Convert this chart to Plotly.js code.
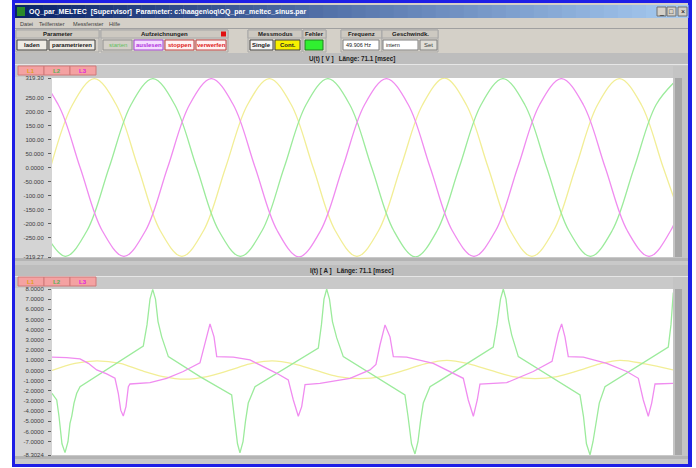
<!DOCTYPE html>
<html><head><meta charset="utf-8">
<script src="https://cdn.plot.ly/plotly-3.0.1.min.js"></script>
<style>html,body{margin:0;padding:0;background:#fff;}#chart{width:696px;height:468px;}</style>
</head><body><div id="chart"></div>
<script>
// ---- Voltage U(t) [V], time in ms ----
const uL1Time = [-0.16,2.345,4.85,7.355,9.86,12.365,14.87,17.375,19.88,22.385,24.89,27.395,29.9,32.405,34.91,37.415,39.92,42.425,44.93,47.435,49.94,52.445,54.95,57.455,59.96,62.465,64.97,67.475,69.98,72.485];
const uL1 = [0,224,317,224,0,-224,-317,-224,0,224,317,224,0,-224,-317,-224,0,224,319,224,0,-224,-317,-224,0,224,317,224,0,-224];
const uL2Time = [-0.975,1.53,4.035,6.54,9.045,11.55,14.055,16.56,19.065,21.57,24.075,26.58,29.085,31.59,34.095,36.6,39.105,41.61,44.115,46.62,49.125,51.63,54.135,56.64,59.145,61.65,64.155,66.66,69.165,71.67];
const uL2 = [-224,-317,-224,0,224,317,224,0,-224,-317,-224,0,224,317,224,0,-224,-319,-224,0,224,317,224,0,-224,-317,-224,0,224,317];
const uL3Time = [-4.295,-1.79,0.715,3.22,5.725,8.23,10.735,13.24,15.745,18.25,20.755,23.26,25.765,28.27,30.775,33.28,35.785,38.29,40.795,43.3,45.805,48.31,50.815,53.32,55.825,58.33,60.835,63.34,65.845,68.35,70.855,73.36];
const uL3 = [224,317,224,0,-224,-317,-224,0,224,317,224,0,-224,-319,-224,0,224,317,224,0,-224,-317,-224,0,224,317,224,0,-224,-317,-224,0];

// ---- Current I(t) [A], time in ms ----
const iL1Time = [0,2.63,5.15,7.79,10.19,12.71,15.23,17.75,20.26,22.67,25.19,27.71,30.23,32.74,35.26,37.78,40.3,42.7,45.22,47.74,50.26,52.78,55.3,57.82,60.34,62.74,65.03,67.89,71.1];
const iL1 = [0,0.7,0.95,0.7,0,-0.6,-0.85,-0.6,0,0.65,0.95,0.65,0,-0.6,-0.8,-0.6,0,0.65,1.0,0.65,0,-0.6,-0.8,-0.6,0,0.65,1.0,0.65,0.05];
const iL2Time = [0,0.54,0.8,1.14,1.49,1.83,2.06,2.26,2.52,2.83,3.21,9.31,10.45,10.88,11.22,11.53,11.85,12.14,12.56,13.32,16.94,20.57,20.89,21.24,21.52,21.87,22.15,22.47,23.24,30.49,30.85,31.14,31.45,31.77,32.11,32.6,33.35,40.41,40.76,41.16,41.56,41.9,42.19,42.51,43.28,44.42,50.52,50.95,51.35,51.67,51.98,52.26,52.63,53.39,60.45,60.85,61.19,61.6,61.94,62.28,62.66,63.31,70.56,70.87,71.13,71.44];
const iL2 = [-2.24,-2.9,-4.5,-7.2,-8.07,-7.0,-5.2,-4.5,-3.2,-2.24,-1.6,1.75,2.4,4.5,7.0,7.97,7.0,4.8,3.3,1.36,-0.6,-2.4,-4.5,-7.2,-8.1,-7.0,-5.0,-3.2,-1.6,2.2,4.5,7.0,8.0,7.0,4.8,3.2,1.36,-2.4,-4.5,-7.2,-8.2,-7.0,-5.0,-3.2,-1.6,-1.0,2.3,4.5,7.0,8.0,7.0,5.0,3.5,1.36,-2.4,-4.5,-7.2,-8.3,-7.0,-5.0,-3.2,-1.6,2.3,4.5,7.6,8.0];
const iL3Time = [0,1.68,3.21,4.16,5.12,6.26,7.21,7.59,7.87,8.16,8.47,8.74,8.93,11.22,13.13,15.03,16.94,17.52,18.09,18.55,18.86,20.76,22.67,24.19,25.73,27.05,27.63,28.2,28.59,28.97,30.68,34.12,36.41,37.09,37.55,38.13,38.7,39.08,40.61,43.65,45.57,47.09,47.66,48.24,48.69,49.0,52.06,55.1,57.25,57.97,58.35,58.73,59.11,60.83,63.51,65.8,67.13,67.7,68.27,68.66,69.04,71.13];
const iL3 = [1.3,1.26,1.13,0.7,0.05,-0.34,-0.77,-2.24,-3.9,-4.47,-3.55,-1.6,-1.33,-1.2,-0.77,-0.1,0.75,2.7,4.57,3.3,1.36,1.3,1.03,0.37,-0.28,-0.93,-2.9,-4.5,-3.55,-1.4,-1.26,-0.77,0.05,0.6,2.5,4.47,3.3,1.36,1.3,0.7,-0.1,-0.77,-2.9,-4.5,-2.9,-1.33,-1.2,-0.1,0.9,3.65,4.57,3.3,1.36,1.3,0.7,-0.1,-0.77,-2.9,-4.5,-3.2,-1.33,-1.26];

// ---- tick labels ----
const uTickVals = [319.30,250,200,150,100,50,0,-50,-100,-150,-200,-250,-319.27];
const uTickText = ['319.30','250.00','200.00','150.00','100.00','50.000','0.0000','-50.000','-100.00','-150.00','-200.00','-250.00','-319.27'];
const iTickVals = [8,7,6,5,4,3,2,1,0,-1,-2,-3,-4,-5,-6,-7,-8.3024];
const iTickText = ['8.0000','7.0000','6.0000','5.0000','4.0000','3.0000','2.0000','1.0000','0.0000','-1.0000','-2.0000','-3.0000','-4.0000','-5.0000','-6.0000','-7.0000','-8.3024'];
const phaseNames = ['L1','L2','L3'];
const recLength = 71.1;

const W = 696, H = 468;
const px = x => x / W, py = y => 1 - y / H;
const FONT = 'Liberation Sans, Arial, sans-serif';
const shapes = [], ann = [];
function rect(x0, y0, x1, y1, fill, line, lw) {
  shapes.push({type:'rect', xref:'paper', yref:'paper', x0:px(x0), x1:px(x1), y0:py(y1), y1:py(y0),
    fillcolor:fill, line:{color:line || fill, width:line ? (lw || 1) : 0}, layer:'below'});
}
function txt(x, y, s, o) {
  o = o || {};
  ann.push({xref:'paper', yref:'paper', x:px(x), y:py(y), text:o.bold ? '<b>' + s + '</b>' : s, showarrow:false,
    xanchor:o.anchor || 'center', yanchor:'middle', borderpad:0,
    font:{family:FONT, size:o.size || 6.5, color:o.color || '#202020'}});
}

// window frame
rect(12, 0, 692, 467, '#1e1ee6');
rect(15, 3, 688, 464, '#d4d0c8');
// title bar gradient
const steps = 48, c0 = [10, 36, 106], c1 = [166, 202, 240];
for (let i = 0; i < steps; i++) {
  const f = i / (steps - 1);
  const c = c0.map((v, k) => Math.round(v + (c1[k] - v) * f));
  rect(15 + i * 673 / steps, 5, 15 + (i + 1) * 673 / steps + 0.5, 18, 'rgb(' + c.join(',') + ')');
}
rect(17, 7, 25, 16, '#2a8a2a');
txt(28, 11.5, 'OQ_par_MELTEC  [Supervisor]  Parameter: c:\\haagen\\oq\\OQ_par_meltec_sinus.par', {anchor:'left', bold:true, color:'#ffffff', size:7});
[[657, '_'], [667, '□'], [678, '×']].forEach(b => { rect(b[0], 7, b[0] + 9, 16, '#d4d0c8', '#707070'); txt(b[0] + 4.5, 11.5, b[1], {size:7, color:'#000'}); });
// menu
[[19, 'Datei'], [38, 'Teilfenster'], [72, 'Messfenster'], [108, 'Hilfe']].forEach(m => txt(m[0], 23.5, m[1], {anchor:'left', size:5.6, color:'#404040'}));
rect(15, 28, 688, 29, '#a0a0a0');
// toolbar groups
[[16, 99, 'Parameter'], [101, 228, 'Aufzeichnungen'], [248, 302, 'Messmodus'], [303, 326, 'Fehler'], [341, 382, 'Frequenz'], [382, 438, 'Geschwindk.']].forEach(g => {
  rect(g[0], 30, g[1], 52, '#d4d0c8', '#a8a8a8');
  rect(g[0], 30, g[1], 38, '#cdc9c1', '#a8a8a8');
  txt((g[0] + g[1]) / 2, 34.2, g[2], {bold:true, size:6});
});
rect(221, 31.5, 226, 36.5, '#e01010');
function btn(x0, x1, label, fill, border, color, bold) {
  rect(x0, 40, x1, 50, fill, border);
  txt((x0 + x1) / 2, 45.2, label, {bold:bold, size:6, color:color});
}
btn(17, 47, 'laden', '#eeebe4', '#404040', '#202020', true);
btn(49, 95, 'parametrieren', '#eeebe4', '#404040', '#202020', true);
btn(103, 132, 'starten', '#d4d0c8', '#909090', '#60c060', false);
btn(134, 163, 'auslesen', '#f4dcff', '#a040d0', '#b030e0', true);
btn(165, 194, 'stoppen', '#fff2f2', '#c04040', '#e02020', true);
btn(196, 226, 'verwerfen', '#fff2f2', '#c04040', '#e02020', true);
btn(250, 273, 'Single', '#f6f6f6', '#404040', '#202020', true);
btn(275, 300, 'Cont.', '#f8f000', '#404040', '#202020', true);
rect(305, 40, 323, 50, '#30f030', '#208020');
rect(343, 40, 379, 50, '#ffffff', '#808080'); txt(345, 45.2, '49.906 Hz', {anchor:'left', size:5.5});
rect(383, 40, 418, 50, '#ffffff', '#808080'); txt(385, 45.2, 'intern', {anchor:'left', size:5.5});
btn(420, 437, 'Set', '#e2dfd8', '#808080', '#404040', false);

// chart panels
function panel(yTop, yHead, yTab, yPlot0, yPlot1, yBottom, title) {
  rect(15, yTop, 688, yBottom, '#c9c9c9');
  rect(15, yHead, 688, yHead + 11, '#bdbdbd');
  rect(15, yHead + 11, 688, yHead + 12, '#e6e6e6');
  txt(352, yHead + 5.8, title, {bold:true, size:6.3});
  const tabColors = ['#e0a020', '#58b058', '#e020e0'];
  phaseNames.forEach((n, i) => {
    rect(18 + 26 * i, yTab, 44 + 26 * i, yTab + 9, '#f4a2a2', '#d07878');
    txt(31 + 26 * i, yTab + 4.7, n, {size:6, color:tabColors[i], bold:true});
  });
  rect(15, yPlot0 - 1, 52, yPlot1 + 1, '#d4d4d4');
  rect(52, yPlot0, 673, yPlot1, '#ffffff');
  rect(673, yTab, 688, yPlot1 + 2, '#c4c4c4');
  rect(675, yPlot0, 682, yPlot1, '#a6a6a6');
  rect(15, yPlot1 + 1, 688, yPlot1 + 4, '#b4b4b4');
}
panel(53, 53, 66, 78, 257, 262, 'U(t) [ V ]   Länge: ' + recLength + ' [msec]');
panel(262, 265, 277, 289, 455, 464, 'I(t) [ A ]   Länge: ' + recLength + ' [msec]');
rect(15, 459, 688, 464, '#c9c9c9');

const colors = ['#f2ee96', '#9ceb9c', '#f08cf0'];
function tr(x, y, c, ax, shape) {
  return {x:x, y:y, type:'scatter', mode:'lines', xaxis:ax[0], yaxis:ax[1], hoverinfo:'skip',
    line:{color:c, width:1.3, shape:shape, smoothing:1}};
}
const data = [
  tr(uL1Time, uL1, colors[0], ['x', 'y'], 'spline'),
  tr(uL2Time, uL2, colors[1], ['x', 'y'], 'spline'),
  tr(uL3Time, uL3, colors[2], ['x', 'y'], 'spline'),
  tr(iL1Time, iL1, colors[0], ['x2', 'y2'], 'spline'),
  tr(iL2Time, iL2, colors[1], ['x2', 'y2'], 'linear'),
  tr(iL3Time, iL3, colors[2], ['x2', 'y2'], 'linear')
];
const xBase = {domain:[px(52), px(673)], range:[0, recLength], showticklabels:false, showgrid:false, zeroline:false, showline:false, ticks:'', fixedrange:true};
const yBase = {tickmode:'array', ticks:'outside', ticklen:3, tickwidth:1, tickcolor:'#606060', ticklabelstandoff:3,
  tickfont:{family:FONT, size:6, color:'#404040'}, showgrid:false, zeroline:false, showline:false, fixedrange:true};
const layout = {
  width:W, height:H, autosize:false, margin:{l:0, r:0, t:0, b:0},
  paper_bgcolor:'#ffffff', plot_bgcolor:'rgba(0,0,0,0)', showlegend:false,
  xaxis:Object.assign({}, xBase, {anchor:'y'}),
  xaxis2:Object.assign({}, xBase, {anchor:'y2'}),
  yaxis:Object.assign({}, yBase, {anchor:'x', domain:[py(257), py(78)], range:[-319.27, 319.30], tickvals:uTickVals, ticktext:uTickText}),
  yaxis2:Object.assign({}, yBase, {anchor:'x2', domain:[py(455), py(289)], range:[-8.3024, 8.0], tickvals:iTickVals, ticktext:iTickText}),
  shapes:shapes, annotations:ann
};
Plotly.newPlot('chart', data, layout, {staticPlot:true, displayModeBar:false});
</script>
</body></html>
